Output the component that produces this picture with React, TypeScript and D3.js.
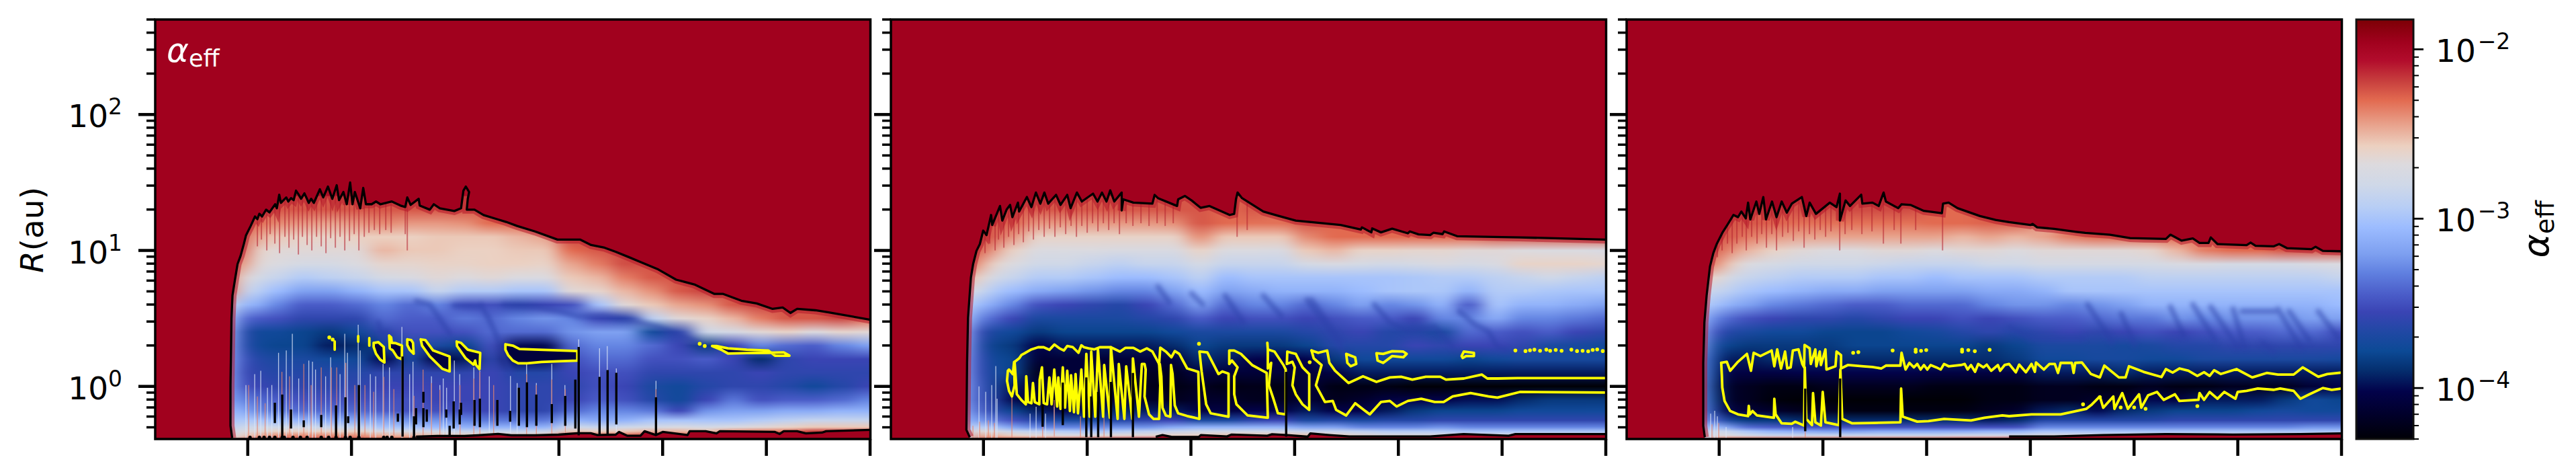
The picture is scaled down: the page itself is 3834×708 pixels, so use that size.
import * as d3 from "d3";

// axis units: time is arbitrary (no labels on the figure), R in au, alpha as log10
const panelLefts = [231, 1326, 2421];
const panelWidth = 1064.5;
const plotTop = 29;
const plotBottom = 653;
const timeMax = 1064;
const timeTicks = [137.7, 292, 446.3, 600.6, 754.9, 909.2, 1063.5];
const rMin = 0.41;
const rMax = 500;
const alphaMin = 5e-5;
const alphaMax = 1.5e-2;
const bgLog = -1.96;

const stopLogs = [-1.823, -1.96, -2.065, -2.19, -2.3, -2.44, -2.57, -2.68, -2.8, -2.93, -3.05, -3.21, -3.32, -3.45, -3.55, -3.67, -3.78, -3.89, -4.02, -4.15, -4.301];
const stopColors = ["#7c0005", "#a1011e", "#b20c2c", "#c8403e", "#e26a50", "#e8a08a", "#ecd0c0", "#dcdade", "#cfd8e8", "#b8cef5", "#9cbcff", "#7d9ff0", "#6080e0", "#4a5cc8", "#3a44b4", "#2048a4", "#0c4a96", "#053070", "#02024a", "#01002c", "#000006"];

// sampled log10(R) levels, bottom to top, one value per level in each column below
const logRRows = [-0.39, -0.36, -0.33, -0.3, -0.25, -0.18, -0.1, 0, 0.1, 0.2, 0.3, 0.4, 0.5, 0.6, 0.7, 0.8, 0.9, 1.0, 1.1, 1.2, 1.3, 1.4];
const columnTimes = [115, 130, 150, 180, 220, 260, 300, 340, 380, 420, 460, 500, 540, 580, 620, 660, 700, 740, 780, 820, 860, 900, 940, 980, 1020, 1064];

const alphaGrid1 = [
  [-2.7, -2.75, -2.8, -2.9, -3.0, -3.1, -3.2, -3.2, -3.2, -3.2, -3.15, -3.1, -3.0, -2.8, -2.4],
  [-2.4, -2.6, -2.7, -2.8, -2.95, -3.1, -3.3, -3.5, -3.55, -3.5, -3.6, -3.6, -3.4, -3.1, -2.85, -2.65, -2.4, -2.25],
  [-2.2, -2.5, -2.65, -2.8, -3.0, -3.3, -3.4, -3.55, -3.6, -3.65, -3.75, -3.75, -3.45, -3.1, -2.9, -2.75, -2.65, -2.6, -2.45, -2.3],
  [-2.2, -2.4, -2.6, -2.8, -3.05, -3.35, -3.45, -3.6, -3.65, -3.7, -3.8, -3.75, -3.5, -3.3, -3.05, -2.85, -2.7, -2.65, -2.55, -2.38, -2.25],
  [-2.2, -2.4, -2.6, -2.8, -3.1, -3.4, -3.5, -3.6, -3.65, -3.7, -3.8, -3.8, -3.6, -3.45, -3.2, -2.95, -2.75, -2.65, -2.6, -2.42, -2.25],
  [-2.2, -2.4, -2.6, -2.85, -3.15, -3.4, -3.5, -3.6, -3.65, -3.75, -3.95, -3.85, -3.6, -3.45, -3.2, -2.9, -2.75, -2.65, -2.6, -2.45, -2.25],
  [-2.2, -2.4, -2.6, -2.85, -3.15, -3.4, -3.5, -3.6, -3.65, -3.75, -3.9, -3.75, -3.6, -3.4, -3.1, -2.85, -2.7, -2.65, -2.58, -2.42, -2.25],
  [-2.3, -2.5, -2.75, -3.0, -3.2, -3.45, -3.5, -3.55, -3.6, -4.0, -3.8, -3.6, -3.4, -3.3, -3.0, -2.75, -2.62, -2.5, -2.57, -2.38, -2.25],
  [-2.3, -2.5, -2.75, -3.0, -3.25, -3.5, -3.5, -3.55, -3.6, -3.7, -3.65, -3.5, -3.45, -3.4, -3.0, -2.72, -2.62, -2.55, -2.58, -2.42, -2.25],
  [-2.1, -2.55, -2.8, -3.05, -3.25, -3.5, -3.55, -3.55, -3.6, -4.05, -3.7, -3.5, -3.45, -3.3, -2.85, -2.65, -2.6, -2.55, -2.55, -2.42, -2.25],
  [-2.1, -2.6, -2.85, -3.1, -3.3, -3.5, -3.55, -3.55, -3.6, -3.95, -3.8, -3.5, -3.35, -3.5, -2.95, -2.68, -2.6, -2.58, -2.55, -2.4, -2.25],
  [-2.05, -2.6, -2.85, -3.1, -3.35, -3.55, -3.55, -3.55, -3.55, -3.6, -3.5, -3.4, -3.4, -3.5, -2.95, -2.65, -2.58, -2.58, -2.55, -2.3],
  [-2.05, -2.6, -2.85, -3.1, -3.35, -3.6, -3.6, -3.6, -3.65, -4.0, -4.0, -3.4, -3.3, -3.6, -3.0, -2.7, -2.58, -2.55, -2.5, -2.3],
  [-2.05, -2.6, -2.85, -3.1, -3.35, -3.6, -3.6, -3.6, -3.65, -4.0, -4.0, -3.4, -3.25, -3.55, -3.0, -2.7, -2.6, -2.55, -2.45, -2.25],
  [-1.96, -2.2, -2.55, -2.8, -3.1, -3.4, -3.55, -3.6, -3.55, -3.5, -3.4, -3.25, -3.3, -3.5, -2.65, -2.55, -2.45, -2.3, -2.2],
  [-1.96, -2.3, -2.6, -2.85, -3.15, -3.3, -3.45, -3.5, -3.5, -3.4, -3.3, -3.2, -3.55, -3.0, -2.62, -2.5, -2.35, -2.25],
  [-1.96, -2.3, -2.55, -2.8, -3.1, -3.3, -3.5, -3.55, -3.5, -3.4, -3.3, -3.2, -3.6, -2.65, -2.5, -2.35, -2.22],
  [-1.96, -2.2, -2.5, -2.75, -3.0, -3.35, -3.65, -3.7, -3.6, -3.5, -3.4, -3.75, -2.9, -2.55, -2.4, -2.25],
  [-1.96, -2.3, -2.5, -2.7, -3.0, -3.55, -3.75, -3.75, -3.6, -3.5, -3.55, -3.6, -2.65, -2.45, -2.25],
  [-1.96, -2.2, -2.55, -2.75, -3.0, -3.25, -3.55, -3.65, -3.6, -3.45, -3.85, -2.8, -2.6, -2.4, -2.2],
  [-1.96, -2.1, -2.4, -2.7, -3.0, -3.2, -3.35, -3.6, -3.6, -3.55, -3.55, -2.75, -2.5, -2.25],
  [-1.96, -2.1, -2.35, -2.65, -2.95, -3.2, -3.5, -3.6, -3.55, -3.9, -3.3, -2.65, -2.35, -2.2],
  [-1.96, -2.1, -2.35, -2.6, -2.9, -3.15, -3.45, -3.65, -3.6, -3.6, -3.4, -2.6, -2.25],
  [-1.96, -2.1, -2.2, -2.55, -2.85, -3.15, -3.45, -3.75, -3.6, -3.55, -3.45, -2.7, -2.25],
  [-1.96, -1.96, -2.2, -2.55, -2.85, -3.1, -3.4, -3.65, -3.6, -3.55, -3.3, -2.62, -2.2],
  [-1.96, -1.96, -2.2, -2.55, -2.85, -3.1, -3.3, -3.55, -3.6, -3.55, -3.2, -2.65, -2.3],
];

const alphaGrid2 = [
  [-2.8, -2.85, -2.9, -3.0, -3.1, -3.15, -3.2, -3.2, -3.2, -3.2, -3.15, -3.1, -3.0, -2.9, -2.7, -2.5, -2.3],
  [-2.25, -2.45, -2.6, -2.85, -3.2, -3.4, -3.5, -3.5, -3.55, -3.55, -3.6, -3.55, -3.3, -3.05, -2.8, -2.6, -2.42, -2.25],
  [-2.3, -2.5, -2.7, -3.0, -3.35, -3.6, -3.65, -3.7, -3.72, -3.75, -3.8, -3.7, -3.4, -3.15, -2.95, -2.75, -2.6, -2.42, -2.25],
  [-2.3, -2.6, -2.85, -3.2, -3.5, -3.8, -4.0, -3.95, -3.8, -3.8, -3.85, -3.75, -3.55, -3.3, -3.05, -2.85, -2.7, -2.6, -2.42, -2.28],
  [-2.3, -2.65, -2.9, -3.3, -3.65, -3.95, -4.2, -4.1, -4.2, -4.1, -4.02, -3.85, -3.7, -3.5, -3.15, -2.95, -2.8, -2.7, -2.6, -2.42, -2.25],
  [-2.3, -2.7, -2.95, -3.3, -3.7, -4.0, -4.2, -4.15, -4.1, -4.1, -3.95, -3.8, -3.7, -3.55, -3.2, -2.95, -2.8, -2.7, -2.6, -2.42, -2.25],
  [-2.25, -2.7, -3.0, -3.3, -3.7, -3.95, -4.15, -4.15, -4.1, -4.1, -3.95, -3.8, -3.7, -3.6, -3.25, -3.0, -2.85, -2.7, -2.6, -2.42, -2.25],
  [-2.2, -2.65, -2.95, -3.25, -3.65, -3.9, -4.1, -4.18, -4.15, -4.1, -3.95, -3.8, -3.7, -3.65, -3.3, -3.05, -2.9, -2.72, -2.6, -2.42, -2.25],
  [-2.15, -2.65, -2.9, -3.25, -3.6, -3.95, -4.15, -4.22, -4.18, -4.08, -3.95, -3.8, -3.65, -3.55, -3.3, -3.05, -2.85, -2.72, -2.6, -2.42, -2.25],
  [-2.15, -2.6, -2.85, -3.15, -3.55, -3.95, -4.2, -4.25, -4.2, -4.08, -3.9, -3.75, -3.6, -3.4, -3.2, -3.0, -2.85, -2.72, -2.6, -2.4, -2.25],
  [-2.1, -2.6, -2.8, -3.1, -3.7, -4.05, -4.15, -4.2, -4.05, -3.9, -3.8, -3.7, -3.45, -3.2, -3.05, -2.9, -2.75, -2.6, -2.4, -2.25],
  [-2.1, -2.55, -2.8, -3.1, -3.7, -4.05, -4.15, -4.25, -4.1, -3.95, -3.85, -3.7, -3.55, -3.4, -3.2, -3.05, -2.85, -2.7, -2.55, -2.3],
  [-2.1, -2.55, -2.8, -3.1, -3.6, -4.02, -4.2, -4.22, -4.1, -4.02, -3.85, -3.7, -3.5, -3.3, -3.15, -3.0, -2.85, -2.7, -2.55, -2.32, -2.25],
  [-2.1, -2.55, -2.8, -3.1, -3.55, -4.02, -4.2, -4.25, -4.1, -4.02, -3.85, -3.7, -3.5, -3.3, -3.1, -3.0, -2.85, -2.72, -2.55, -2.32],
  [-2.1, -2.55, -2.85, -3.2, -3.7, -3.95, -4.1, -4.1, -4.1, -4.02, -3.8, -3.65, -3.55, -3.4, -3.1, -3.0, -2.75, -2.55, -2.38, -2.25],
  [-2.1, -2.6, -2.85, -3.2, -3.65, -4.02, -4.2, -4.25, -4.05, -3.85, -3.65, -3.6, -3.5, -3.3, -3.1, -3.0, -2.72, -2.5, -2.3],
  [-2.1, -2.65, -2.9, -3.3, -3.7, -4.02, -4.15, -4.25, -3.95, -3.75, -3.65, -3.55, -3.45, -3.2, -3.05, -3.0, -2.75, -2.6, -2.3],
  [-2.1, -2.7, -2.95, -3.3, -3.65, -3.95, -4.05, -4.25, -3.95, -3.75, -3.65, -3.65, -3.45, -3.3, -3.0, -3.0, -2.78, -2.6, -2.3],
  [-2.1, -2.7, -2.95, -3.3, -3.65, -3.85, -4.02, -4.3, -3.95, -3.75, -3.55, -3.65, -3.55, -3.25, -2.98, -2.98, -2.75, -2.62, -2.3],
  [-2.1, -2.7, -2.95, -3.25, -3.6, -3.8, -4.02, -4.3, -3.95, -3.75, -3.6, -3.7, -3.3, -3.1, -2.98, -2.95, -2.72, -2.62, -2.3],
  [-2.1, -2.7, -3.0, -3.3, -3.6, -3.8, -3.98, -4.3, -3.95, -3.8, -3.55, -3.4, -3.3, -3.45, -3.1, -2.95, -2.75, -2.65, -2.3],
  [-2.1, -2.7, -3.0, -3.3, -3.6, -3.8, -3.98, -4.3, -3.95, -3.75, -3.55, -3.45, -3.15, -3.0, -2.95, -2.9, -2.72, -2.65, -2.25],
  [-2.1, -2.7, -3.0, -3.3, -3.6, -3.75, -3.9, -4.3, -3.95, -3.72, -3.6, -3.5, -3.3, -3.1, -2.95, -2.85, -2.6, -2.68, -2.25],
  [-2.1, -2.7, -3.0, -3.3, -3.6, -3.75, -3.85, -4.3, -3.95, -3.72, -3.7, -3.45, -3.3, -3.1, -2.98, -2.8, -2.6, -2.7, -2.25],
  [-2.1, -2.7, -3.0, -3.3, -3.6, -3.75, -3.85, -4.3, -3.95, -3.72, -3.72, -3.55, -3.35, -3.15, -3.0, -2.85, -2.6, -2.7, -2.25],
  [-2.1, -2.7, -3.0, -3.3, -3.6, -3.75, -3.85, -4.3, -3.95, -3.72, -3.75, -3.6, -3.4, -3.2, -3.0, -2.9, -2.62, -2.72, -2.25],
];

const alphaGrid3 = [
  [-2.9, -2.9, -2.95, -3.1, -3.2, -3.3, -3.3, -3.3, -3.3, -3.3, -3.2, -3.15, -3.05, -2.95, -2.8, -2.6, -2.35],
  [-2.4, -2.65, -2.75, -3.0, -3.45, -3.7, -3.8, -3.85, -3.8, -3.75, -3.7, -3.5, -3.3, -3.0, -2.85, -2.6, -2.35, -2.25],
  [-2.3, -2.7, -2.85, -3.2, -3.7, -4.05, -4.15, -4.15, -4.05, -3.95, -3.8, -3.65, -3.4, -3.1, -2.9, -2.75, -2.55, -2.38, -2.25],
  [-2.3, -2.8, -3.0, -3.4, -3.85, -4.1, -4.2, -4.2, -4.05, -3.95, -3.85, -3.7, -3.5, -3.2, -3.0, -2.85, -2.7, -2.5, -2.35, -2.25],
  [-2.3, -2.85, -3.1, -3.45, -3.85, -4.15, -4.28, -4.25, -4.05, -3.9, -3.85, -3.75, -3.55, -3.3, -3.05, -2.9, -2.75, -2.6, -2.42, -2.28],
  [-2.3, -2.85, -3.15, -3.5, -3.9, -4.2, -4.3, -4.25, -4.02, -3.9, -3.85, -3.75, -3.6, -3.35, -3.1, -2.95, -2.8, -2.65, -2.45, -2.32, -2.22],
  [-2.3, -2.85, -3.2, -3.5, -3.9, -4.2, -4.3, -4.2, -4.02, -3.9, -3.85, -3.8, -3.6, -3.4, -3.15, -2.95, -2.8, -2.68, -2.45, -2.32, -2.22],
  [-2.3, -2.85, -3.2, -3.5, -3.9, -4.25, -4.3, -4.2, -4.02, -3.9, -3.8, -3.8, -3.65, -3.45, -3.15, -2.95, -2.8, -2.68, -2.45, -2.32, -2.22],
  [-2.3, -2.85, -3.15, -3.5, -3.9, -4.25, -4.3, -4.2, -4.02, -3.9, -3.8, -3.8, -3.6, -3.45, -3.2, -3.0, -2.82, -2.65, -2.45, -2.32, -2.22],
  [-2.3, -2.85, -3.15, -3.5, -3.9, -4.25, -4.3, -4.2, -4.02, -3.9, -3.8, -3.75, -3.55, -3.4, -3.2, -3.0, -2.85, -2.65, -2.45, -2.32, -2.22],
  [-2.3, -2.85, -3.15, -3.5, -3.9, -4.25, -4.3, -4.25, -4.05, -3.9, -3.8, -3.72, -3.55, -3.4, -3.2, -3.05, -2.85, -2.68, -2.45, -2.3],
  [-2.25, -2.8, -3.15, -3.5, -3.9, -4.25, -4.3, -4.25, -4.05, -3.9, -3.8, -3.65, -3.5, -3.4, -3.2, -3.0, -2.85, -2.65, -2.5, -2.3],
  [-2.25, -2.8, -3.1, -3.5, -3.95, -4.2, -4.25, -4.25, -4.05, -3.9, -3.85, -3.6, -3.55, -3.3, -3.15, -3.0, -2.8, -2.65, -2.45, -2.28],
  [-2.2, -2.8, -3.1, -3.5, -3.9, -4.15, -4.25, -4.25, -4.05, -3.85, -3.8, -3.65, -3.5, -3.25, -3.15, -3.0, -2.8, -2.68, -2.5, -2.28],
  [-2.2, -2.7, -3.0, -3.3, -3.65, -3.95, -4.2, -4.2, -3.95, -3.75, -3.7, -3.6, -3.45, -3.25, -3.1, -2.95, -2.75, -2.65, -2.45],
  [-2.2, -2.7, -3.0, -3.3, -3.65, -3.9, -4.2, -4.2, -3.95, -3.75, -3.7, -3.55, -3.45, -3.3, -3.0, -2.95, -2.75, -2.65, -2.35],
  [-2.2, -2.75, -3.0, -3.3, -3.65, -4.0, -4.15, -4.25, -3.95, -3.72, -3.7, -3.6, -3.4, -3.25, -3.0, -2.95, -2.75, -2.65, -2.3],
  [-2.15, -2.75, -3.0, -3.3, -3.65, -3.9, -4.15, -4.25, -3.9, -3.72, -3.72, -3.55, -3.35, -3.2, -3.0, -2.95, -2.75, -2.65, -2.3],
  [-2.15, -2.75, -3.0, -3.3, -3.65, -3.85, -4.0, -4.2, -3.95, -3.75, -3.7, -3.5, -3.35, -3.1, -3.0, -2.9, -2.75, -2.62, -2.3],
  [-2.1, -2.75, -3.0, -3.3, -3.6, -3.8, -4.05, -4.25, -3.95, -3.75, -3.65, -3.55, -3.25, -3.1, -3.0, -2.9, -2.72, -2.5, -2.3],
  [-2.1, -2.75, -3.0, -3.3, -3.6, -3.8, -3.95, -4.25, -3.95, -3.7, -3.65, -3.5, -3.3, -3.1, -3.0, -2.9, -2.72, -2.35],
  [-2.1, -2.75, -3.0, -3.3, -3.6, -3.8, -3.95, -4.2, -3.95, -3.7, -3.6, -3.45, -3.25, -3.1, -3.0, -2.9, -2.75, -2.3],
  [-2.1, -2.75, -3.0, -3.3, -3.6, -3.75, -3.95, -4.2, -3.95, -3.7, -3.6, -3.45, -3.25, -3.1, -3.0, -2.9, -2.75, -2.3],
  [-2.1, -2.7, -3.0, -3.3, -3.6, -3.72, -3.85, -4.2, -3.95, -3.7, -3.6, -3.4, -3.25, -3.1, -3.0, -2.9, -2.75, -2.25],
  [-2.1, -2.7, -3.0, -3.25, -3.6, -3.75, -3.75, -4.1, -3.95, -3.7, -3.6, -3.4, -3.2, -3.1, -3.0, -2.9, -2.72, -2.25],
  [-2.1, -2.7, -3.0, -3.25, -3.6, -3.75, -3.8, -4.02, -3.95, -3.72, -3.6, -3.5, -3.2, -3.05, -3.0, -2.85, -2.7, -2.25],
];

// outer disc edge, [time, log10 R]
const edge1 = [[114.5, -0.38], [112, -0.29], [112, 0.01], [113.5, 0.5], [115, 0.67], [118.5, 0.78], [122.5, 0.9], [127, 0.96], [132, 1.05], [135, 1.11], [142, 1.18], [148.5, 1.25], [152, 1.23], [155, 1.27], [159, 1.25], [165, 1.3], [170, 1.28], [178.5, 1.34], [181, 1.31], [184.5, 1.41], [187, 1.35], [191, 1.37], [195, 1.39], [198, 1.36], [202, 1.385], [206, 1.37], [209.5, 1.44], [213.5, 1.41], [217, 1.38], [222, 1.42], [228.5, 1.35], [232, 1.38], [236, 1.35], [245, 1.45], [250, 1.39], [257, 1.47], [263.5, 1.38], [270, 1.48], [273.5, 1.37], [280, 1.43], [285, 1.34], [290, 1.5], [293.5, 1.34], [297, 1.43], [305, 1.31], [309.5, 1.46], [313.5, 1.34], [322, 1.34], [328.5, 1.36], [335, 1.34], [352, 1.36], [365, 1.33], [372, 1.32], [375, 1.39], [380, 1.335], [392, 1.38], [393.5, 1.33], [408.5, 1.3], [414.5, 1.34], [423.5, 1.31], [445, 1.29], [455, 1.31], [458.5, 1.44], [462, 1.47], [467, 1.43], [465, 1.38], [463.5, 1.3], [475, 1.3], [488.5, 1.26], [508.5, 1.23], [522, 1.21], [538.5, 1.18], [565, 1.14], [598.5, 1.08], [632, 1.08], [648.5, 1.04], [668.5, 1.02], [685, 0.99], [705, 0.95], [722, 0.915], [748.5, 0.86], [775, 0.785], [802, 0.75], [832, 0.68], [845, 0.68], [872, 0.63], [895, 0.61], [918.5, 0.57], [933.5, 0.58], [945, 0.54], [955, 0.57], [982, 0.56], [1002, 0.545], [1064, 0.49]];
const edge2 = [[117.3, -0.374], [112.3, -0.32], [113.3, 0.173], [114.7, 0.503], [119, 0.8], [122.3, 0.9], [127.3, 0.997], [132.3, 1.047], [137.3, 1.146], [142.3, 1.113], [149, 1.261], [150.7, 1.187], [162.3, 1.327], [165.7, 1.22], [172.3, 1.302], [177.3, 1.335], [180.7, 1.245], [189, 1.352], [190.7, 1.286], [202.3, 1.393], [209, 1.319], [215.7, 1.426], [222.3, 1.344], [228.3, 1.426], [234, 1.344], [245.7, 1.409], [252.3, 1.335], [262.3, 1.409], [267.3, 1.311], [276.7, 1.426], [284, 1.36], [300.7, 1.418], [307.3, 1.36], [314, 1.426], [320.7, 1.36], [326.3, 1.442], [332.3, 1.36], [343.3, 1.426], [343.3, 1.294], [345.7, 1.376], [360.7, 1.352], [389, 1.344], [392.3, 1.409], [397.3, 1.385], [425.7, 1.327], [427.3, 1.376], [437.3, 1.401], [447.3, 1.368], [460.7, 1.314], [474, 1.327], [504, 1.261], [510.7, 1.269], [513.3, 1.376], [515.7, 1.426], [522.3, 1.385], [554, 1.286], [574, 1.258], [594, 1.231], [602.3, 1.22], [635.7, 1.203], [669, 1.187], [699, 1.154], [700.7, 1.17], [714.7, 1.133], [716, 1.162], [729, 1.133], [745.7, 1.16], [769, 1.126], [772, 1.14], [785, 1.118], [802.3, 1.113], [807, 1.13], [820.7, 1.12], [823, 1.14], [842.3, 1.105], [935.7, 1.096], [1062, 1.08], [1064, 1.08]];
const edge3 = [[116.3, -0.374], [114, -0.29], [114, 0.173], [115.7, 0.47], [119, 0.668], [124, 0.882], [129, 0.981], [134, 1.047], [142.3, 1.129], [150.7, 1.195], [159, 1.261], [165.7, 1.245], [170.7, 1.286], [177.3, 1.236], [180.7, 1.352], [184, 1.228], [193, 1.36], [197.3, 1.269], [203.3, 1.393], [207.3, 1.228], [216.3, 1.36], [223, 1.245], [230.7, 1.36], [238.3, 1.278], [245.7, 1.344], [260.7, 1.393], [267.3, 1.253], [272.3, 1.352], [281.7, 1.269], [302.3, 1.352], [312.3, 1.319], [317.3, 1.418], [317.3, 1.22], [325.7, 1.368], [332.3, 1.327], [349, 1.41], [350.7, 1.344], [365.7, 1.352], [375, 1.327], [382.3, 1.426], [385.7, 1.36], [404, 1.311], [409, 1.34], [422.3, 1.335], [442.3, 1.291], [469, 1.274], [470.7, 1.344], [479, 1.352], [492.3, 1.311], [525.7, 1.253], [549, 1.225], [569, 1.208], [600.7, 1.187], [604, 1.195], [610.7, 1.17], [635.7, 1.159], [669, 1.137], [682.3, 1.129], [719, 1.116], [749, 1.091], [769, 1.088], [802.3, 1.085], [809, 1.116], [825.7, 1.072], [842.3, 1.088], [852.3, 1.055], [865.7, 1.055], [869, 1.096], [879, 1.047], [922.3, 1.039], [928.3, 1.058], [935.7, 1.034], [962.3, 1.03], [970.7, 1.047], [982.3, 1.017], [1019, 1.009], [1024.7, 1.027], [1035.7, 0.997], [1064, 0.994]];

// inner disc edge
const inner1 = [[388, -0.37], [420, -0.365], [460, -0.365], [480, -0.36], [510, -0.35], [530, -0.36], [565, -0.36], [600, -0.355], [628, -0.345], [648, -0.345], [658, -0.358], [685, -0.355], [690, -0.335], [702, -0.363], [722, -0.363], [728, -0.33], [745, -0.358], [755, -0.335], [792, -0.358], [795, -0.33], [819, -0.33], [835, -0.346], [840, -0.33], [922, -0.335], [929, -0.35], [935, -0.33], [955, -0.33], [968, -0.346], [992, -0.34], [998, -0.33], [1064, -0.32]];
const inner2 = [[394, -0.37], [404, -0.358], [417, -0.371], [458, -0.372], [461, -0.358], [500, -0.368], [507, -0.354], [560, -0.363], [567, -0.352], [589, -0.358], [620, -0.37], [624, -0.346], [652, -0.358], [682, -0.368], [802, -0.368], [852, -0.351], [919, -0.363], [929, -0.351], [1064, -0.351]];
const inner3 = [[569, -0.368], [636, -0.368], [709, -0.358], [802, -0.351], [902, -0.354], [1002, -0.351], [1064, -0.346]];

// black contour spikes, [time, top log10 R, bottom log10 R]
const bars1 = [[178, -0.12, -0.27], [189, -0.06, -0.37], [202, -0.17, -0.31], [221, -0.25, -0.3], [247, -0.21, -0.3], [269, -0.14, -0.37], [283, -0.08, -0.37], [287, -0.22, -0.27], [303, 0.01, -0.37], [361, -0.2, -0.26], [368, 0.22, -0.37], [385, -0.22, -0.37], [388, -0.16, -0.28], [399, -0.04, -0.12], [399, -0.16, -0.3], [404, -0.17, -0.26], [433, -0.17, -0.23], [438, -0.29, -0.37], [444, -0.11, -0.31], [453, -0.17, -0.28], [455, -0.12, -0.21], [475, -0.1, -0.29], [483, -0.09, -0.3], [509, -0.1, -0.29], [528, -0.18, -0.26], [541, -0.01, -0.29], [553, 0.03, -0.3], [567, -0.06, -0.29], [590, -0.13, -0.27], [610, -0.07, -0.29], [625, 0.05, -0.31], [630, 0.29, -0.36], [661, 0.07, -0.36], [673, 0.12, -0.36], [686, 0.1, -0.28], [745, -0.08, -0.35]];
const bars2 = [[225.7, -0.132, -0.297], [255.7, 0.028, -0.285], [290.7, 0.066, -0.374], [298, -0.074, -0.374], [308.3, -0.041, -0.374], [327.3, 0.033, -0.374], [360, 0.099, -0.374], [588, 0.107, -0.37]];
const bars3 = [[265.7, -0.016, -0.33], [317.7, 0.058, -0.374]];

// small black blobs along the bottom of the first panel
const baseBlobs1 = [141, 155, 162, 170, 178, 189, 192, 205, 216, 226, 247, 258, 269, 283, 290, 303, 340, 345, 352, 385, 392];

// yellow alpha = 1e-4 contours, one array per line
const yellow1 = [
  [[325, 0.32], [332, 0.325], [340, 0.29], [341, 0.176], [334.5, 0.198], [328.5, 0.24], [325, 0.29], [325, 0.32]],
  [[348, 0.374], [351, 0.36], [352, 0.32], [358, 0.318], [367, 0.3], [367, 0.2], [360, 0.214], [353.5, 0.264], [349, 0.28], [348, 0.374]],
  [[375, 0.346], [381, 0.34], [383.5, 0.32], [384.5, 0.24], [378.5, 0.27], [375, 0.305], [375, 0.346]],
  [[395, 0.346], [402, 0.34], [413.5, 0.264], [438, 0.22], [438, 0.11], [427, 0.13], [408.5, 0.22], [397, 0.3], [395, 0.346]],
  [[448.5, 0.33], [455, 0.32], [465, 0.27], [483.5, 0.247], [482.5, 0.127], [477, 0.16], [476, 0.19], [473.5, 0.16], [462, 0.206], [449, 0.297], [448.5, 0.33]],
  [[521, 0.31], [532, 0.3], [542, 0.275], [570, 0.27], [600, 0.265], [628, 0.26], [628, 0.19], [600, 0.185], [575, 0.18], [553, 0.17], [540, 0.17], [532, 0.19], [525, 0.23], [521, 0.27], [521, 0.31]],
  [[828.5, 0.297], [835, 0.297], [852, 0.28], [880, 0.27], [912, 0.264], [922, 0.226], [932, 0.225], [943.5, 0.226], [935, 0.25], [912, 0.247], [880, 0.245], [852, 0.242], [842, 0.27], [828.5, 0.297]],
  [[267, 0.33], [267, 0.27]],
  [[302, 0.37], [302, 0.33]],
  [[318.5, 0.355], [318.5, 0.3]],
];
const yellowDots1 = [[259, 0.36], [264, 0.345], [810, 0.313], [817.5, 0.297]];

const yellow2 = [
  [[184, 0.18], [190.7, 0.206], [194, 0.23], [209, 0.272], [219, 0.288], [227.3, 0.288], [235.7, 0.269], [243.3, 0.308], [250.7, 0.28], [257.3, 0.264], [262.3, 0.297], [270.7, 0.288], [279, 0.247], [283.3, 0.302], [287.3, 0.288], [294, 0.28], [302.3, 0.272], [310.7, 0.288], [327.3, 0.288], [340.7, 0.256], [349, 0.284], [360.7, 0.284], [370.7, 0.256], [380.7, 0.28], [389, 0.256], [399, 0.165]],
  [[174, 0.115], [172.7, 0.041], [175.7, -0.033], [180, -0.074], [184, 0.008], [183.3, 0.18], [181.3, 0.09], [175.7, 0.124], [174, 0.115]],
  [[184, 0.18], [187.3, -0.058], [194, -0.1], [200.7, -0.132], [201.3, 0.074], [204, -0.115], [209, -0.124], [211.3, 0.025], [214, -0.115], [220.7, -0.132], [221.3, 0.05], [224.7, 0.14], [227.3, -0.124], [232.3, -0.132], [235.7, 0.066], [239, -0.132], [243, 0.124], [247.3, -0.148], [249, 0.066], [252.3, -0.165], [255.7, 0.14], [259, -0.157], [262.3, 0.115], [266.3, -0.181], [268, 0.082], [272.3, -0.19], [274.7, 0.091], [278.3, -0.198], [283.3, 0.124], [287.3, -0.223], [290.7, 0.239], [295.7, -0.223], [298, 0.256], [304, -0.223], [308, 0.272], [315.7, -0.223], [317.3, 0.157], [325.7, -0.231], [327.3, 0.288], [337.3, -0.239], [339, 0.165], [347.3, -0.239], [350, 0.148], [359, -0.239], [360, 0.206], [369, -0.223], [373.3, 0.165], [377.3, 0.165], [379, 0.124], [377.3, -0.074], [384, -0.206], [390.7, -0.239], [399, -0.239], [400.7, 0.008], [399, 0.165]],
  [[399, 0.165], [400.7, 0.285], [409, 0.256], [417.3, 0.214], [422.3, 0.26], [429, 0.239], [440.7, 0.132], [457.3, 0.107], [459, -0.239], [440.7, -0.218], [427.3, -0.198], [422.3, -0.14], [419, 0.091], [416.7, 0.157], [415.7, -0.223], [409, -0.214], [404, -0.157], [402.3, 0.074], [400, 0.165]],
  [[459, 0.256], [470.7, 0.25], [487.3, 0.091], [493, 0.11], [502.3, 0.094], [502.3, -0.223], [475.7, -0.198], [469, -0.132], [462.3, 0.107], [459, 0.256]],
  [[503.3, 0.165], [503.3, 0.264], [510.7, 0.264], [520.7, 0.239], [537.3, 0.157], [559, 0.099], [560.7, -0.231], [530.7, -0.214], [514, -0.132], [510.7, -0.058], [510.7, 0.074], [515.7, 0.14], [507.3, 0.19], [503.3, 0.165]],
  [[560, 0.321], [560.7, 0.272], [570.7, 0.256], [584, 0.157], [587.3, 0.124], [587.3, -0.206], [575.7, -0.198], [569, -0.091], [562.3, 0.008], [565.7, 0.173], [560.7, 0.132], [560.7, 0.272]],
  [[589, 0.165], [589.7, 0.256], [595.7, 0.247], [602.3, 0.239], [612.3, 0.14], [622.3, 0.091], [622.3, -0.173], [612.3, -0.132], [602.3, -0.058], [597.3, 0.008], [600.7, 0.14], [597.3, 0.181], [589, 0.165]],
  [[625.7, 0.264], [635.7, 0.247], [649, 0.264], [652.3, 0.173], [660.7, 0.115], [680.7, 0.025], [702.3, 0.074], [722.3, 0.033], [742.3, 0.066], [759, 0.071], [775.7, 0.05], [795.7, 0.071], [817.3, 0.071], [825.7, 0.05], [852.3, 0.058], [879, 0.087], [887.3, 0.058], [902.3, 0.058], [932.3, 0.061], [1066, 0.061]],
  [[1066, -0.045], [935.7, -0.041], [902.3, -0.082], [889, -0.074], [862.3, -0.049], [835.7, -0.074], [822.3, -0.115], [809, -0.115], [789, -0.091], [769, -0.107], [752.3, -0.148], [742.3, -0.107], [729, -0.115], [712.3, -0.206], [690.7, -0.124], [677.3, -0.214], [662.3, -0.173], [657.3, -0.107], [645.7, -0.115], [632.3, 0.008], [640.7, 0.157], [629, 0.206], [625.7, 0.264]],
  [[677.3, 0.239], [690.7, 0.214], [692.3, 0.165], [684, 0.148], [679, 0.173], [677.3, 0.239]],
  [[722.3, 0.244], [732.3, 0.239], [745.7, 0.259], [762.3, 0.256], [767.3, 0.239], [762.3, 0.214], [745.7, 0.223], [732.3, 0.173], [724, 0.19], [722.3, 0.244]],
  [[849, 0.223], [852.3, 0.256], [867.3, 0.247], [867.3, 0.223], [855.7, 0.223], [850.7, 0.209], [849, 0.223]],
];
const yellowDots2 = [[458.3, 0.313], [623, 0.178], [929, 0.264], [944, 0.26], [950.7, 0.266], [957.3, 0.27], [965.7, 0.262], [975, 0.27], [980.7, 0.262], [989, 0.268], [997.7, 0.262], [1012.3, 0.27], [1020.7, 0.26], [1029, 0.262], [1037.3, 0.258], [1044, 0.268], [1050.7, 0.272], [1059, 0.26]];

const yellow3 = [
  [[140.7, 0.173], [149, 0.181], [154, 0.115], [165.7, 0.181], [179, 0.239], [185, 0.115], [189, 0.247], [199, 0.223], [215.7, 0.264], [219.7, 0.148], [224, 0.272], [229.7, 0.132], [235.7, 0.256], [239, 0.132], [244, 0.14], [247.3, 0.264], [255.7, 0.272], [261.3, 0.165], [264, 0.14], [264.7, 0.305], [272.3, 0.28], [274, 0.165], [280.7, 0.272], [282.3, 0.148], [287.3, 0.256], [289, 0.157], [295.7, 0.272], [297.3, 0.124], [310.7, 0.148], [312.3, 0.256], [319, 0.23], [319, 0.132], [329, 0.157], [352.3, 0.148], [365.7, 0.143], [379, 0.132], [385.7, 0.153], [407.3, 0.153], [409, 0.247], [415, 0.124], [420.7, 0.173], [427.3, 0.14], [432.3, 0.165], [437.3, 0.124], [442.3, 0.157], [447.3, 0.124], [452.3, 0.157], [460.7, 0.14], [467.3, 0.124], [472.3, 0.165], [479, 0.148], [497.3, 0.157], [503, 0.165], [507.3, 0.124], [512.3, 0.157], [518.3, 0.107], [523, 0.165], [530.7, 0.14], [535.7, 0.16], [542.3, 0.115], [552.3, 0.157], [555.7, 0.115], [562.3, 0.157], [569, 0.165], [579, 0.104], [584, 0.16], [594, 0.104], [602.3, 0.165], [607.3, 0.107], [609, 0.176], [620.7, 0.124], [629, 0.165], [637, 0.165], [641.7, 0.099], [645.7, 0.173], [662.3, 0.173], [665, 0.099], [667.3, 0.173], [677.3, 0.176], [690.7, 0.091], [704, 0.066], [710.7, 0.153], [732.3, 0.066], [742.3, 0.066], [747.3, 0.148], [769, 0.107], [795.7, 0.069], [802.3, 0.127], [812.3, 0.102], [822.3, 0.132], [835.7, 0.115], [849, 0.077], [859, 0.104], [867.3, 0.077], [874, 0.119], [884, 0.091], [907.3, 0.127], [930.7, 0.066], [952.3, 0.099], [969, 0.087], [992.3, 0.087], [1005.7, 0.14], [1029, 0.071], [1042.3, 0.091], [1064, 0.102]],
  [[140.7, 0.173], [141.7, 0.074], [142.3, -0.008], [145.7, -0.107], [154, -0.181], [165.7, -0.206], [180.7, -0.219], [181.7, -0.143], [183.3, -0.206], [187.3, -0.181], [194, -0.214], [219, -0.231], [219.7, -0.091], [221.7, -0.206], [230.7, -0.272], [245.7, -0.275], [250.7, -0.26], [264, -0.288], [265, 0.14], [267.3, -0.239], [275.7, -0.285], [277.3, -0.049], [280.7, -0.264], [289, -0.288], [291.7, -0.041], [295.7, -0.264], [315.7, -0.285], [318, 0.124], [320.7, -0.239], [335.7, -0.272], [365.7, -0.269], [407.3, -0.264], [408.3, -0.016], [410.7, -0.223], [432.3, -0.259], [449, -0.256], [472.3, -0.239], [512.3, -0.251], [532.3, -0.231], [559, -0.214], [569, -0.219], [602.3, -0.206], [645.7, -0.206], [669, -0.181], [684, -0.165], [692.3, -0.132], [704, -0.074], [709, -0.157], [724, -0.074], [725.7, -0.165], [737.3, -0.049], [745.7, -0.165], [762.3, -0.058], [765.7, -0.157], [775.7, -0.066], [789, -0.041], [799, -0.099], [815.7, -0.058], [822.3, -0.107], [850.7, -0.099], [852.3, -0.049], [859, -0.099], [867.3, -0.041], [879, -0.091], [889, -0.041], [905.7, -0.091], [909, -0.041], [922.3, -0.033], [939, -0.016], [962.3, -0.025], [972.3, -0.016], [992.3, -0.033], [1002.3, -0.091], [1015.7, -0.058], [1035.7, -0.012], [1049, -0.025], [1064, -0.016]],
];
const yellowDots3 = [[344.7, 0.252], [337, 0.247], [395.7, 0.264], [430, 0.27], [430, 0.254], [438, 0.262], [445.7, 0.267], [499, 0.27], [499, 0.256], [508.3, 0.267], [518, 0.259], [540, 0.269], [679, -0.132], [704, -0.08], [735, -0.155], [755, -0.155], [772, -0.165], [849, -0.145]];

// dark ridges running through the disc
const bands1 = [
  [[388.5, 0.626], [408.5, 0.602], [438.5, 0.387]],
  [[445, 0.593], [485, 0.585]],
  [[485, 0.6], [508.5, 0.371]],
  [[518.5, 0.6], [565, 0.585], [602, 0.552], [628.5, 0.516], [668.5, 0.519], [712, 0.483], [748.5, 0.437], [782, 0.371], [808.5, 0.321]],
  [[345, 0.404], [365, 0.206]],
  [[332, 0.47], [342, 0.288]],
  [[495, 0.52], [528.5, 0.107]],
];
const bands2 = [
  [[619, 0.635], [659, 0.371], [679, 0.206]],
  [[625.7, 0.635], [649, 0.47], [669, 0.338]],
  [[719, 0.602], [742.3, 0.47], [769, 0.404], [809, 0.437], [835.7, 0.288]],
  [[845.7, 0.552], [869, 0.453], [889, 0.404], [902.3, 0.288], [915.7, 0.264]],
  [[447.3, 0.684], [464, 0.602]],
  [[497.3, 0.668], [524, 0.47]],
  [[554, 0.668], [580.7, 0.519]],
  [[397.3, 0.734], [414, 0.618]],
];
const bands3 = [
  [[569, 0.437], [602.3, 0.354], [679, 0.354]],
  [[685.7, 0.602], [712.3, 0.404], [722.3, 0.321]],
  [[735.7, 0.536], [755.7, 0.305]],
  [[809, 0.585], [829, 0.371]],
  [[842.3, 0.602], [875.7, 0.338]],
  [[869, 0.585], [909, 0.288]],
  [[902.3, 0.569], [919, 0.288]],
  [[915.7, 0.552], [969, 0.552]],
  [[969, 0.569], [1002.3, 0.288]],
  [[985.7, 0.552], [1015.7, 0.338]],
  [[1029, 0.552], [1059, 0.354]],
  [[945.7, 0.321], [962.3, 0.256]],
];

// thin vertical streaks, [time, top log10 R]
const paleStreaks1 = [[135, 0.01], [148, 0.09], [157, 0.115], [167, -0.01], [173.5, 0.01], [183.5, 0.247], [195, 0.264], [204, 0.387], [213.5, 0.058], [228.5, 0.19], [234, 0.181], [238.5, 0.124], [253.5, 0.074], [261, 0.214], [275, 0.09], [282, 0.387], [286, 0.247], [302, 0.453], [305, 0.264], [320, 0.09], [328, 0.074], [339, 0.165], [348.5, 0.14], [367, 0.437], [378.5, 0.09], [383.5, 0.181], [411, 0.074], [423.5, 0.01], [428.5, 0.058], [433.5, -0.01], [445, 0.19], [453, 0.09], [474, 0.14], [483, 0.115], [497, 0.074], [528.5, 0.077], [538.5, 0.025], [552.5, 0.165], [567, 0.025], [590, 0.165], [609.5, 0.01], [630, 0.346], [661, 0.28], [672.5, 0.297], [686, 0.132], [745, 0.041]];
const pinkStreaks1 = [[139, 0.01], [152, -0.074], [163.5, -0.124], [188.5, 0.107], [200, 0.074], [221, 0.165], [232, 0.01], [247, 0.14], [262, 0.14], [270, 0.14], [283.5, 0.173], [297, 0.01], [312, 0.01], [325, -0.04], [340, 0.07], [355, -0.02], [385, -0.07], [398.5, 0.124], [411, 0.025], [423.5, -0.025], [453.5, 0.01], [474, 0.058], [483, 0.107], [503.5, 0.01], [552.5, 0.09], [567, 0.01], [590, 0.05], [610, -0.02], [661, 0.02], [673, 0.05], [745, -0.02]];
const paleStreaks2 = [[131, 0.0], [141, -0.04], [150, 0.01], [156, 0.15], [158, -0.09], [216, -0.15], [243, -0.15], [207, -0.2], [230, -0.2]];
const pinkStreaks2 = [[122, -0.29], [132, -0.26], [145, -0.25], [154, -0.27], [180, -0.06], [225.7, -0.27], [243, -0.1], [282, -0.22], [317, -0.22]];
const paleStreaks3 = [[125, -0.2], [131, -0.18], [135, -0.22], [148, -0.3], [247, -0.3]];
const pinkStreaks3 = [[127, -0.28], [137, -0.27], [265.7, -0.33]];

// red teeth hanging from the disc edge, [time, lowest log10 R]
const edgeTeeth1 = [[152, 1.03], [158, 1.08], [166, 1.0], [171, 1.12], [178, 1.05], [185, 0.98], [193, 1.1], [199, 1.02], [206, 1.08], [213, 0.97], [219, 1.1], [226, 1.04], [233, 1.0], [240, 1.1], [247, 1.03], [254, 0.98], [261, 1.09], [268, 1.02], [275, 1.1], [282, 1.0], [289, 1.07], [296, 1.12], [303, 1.0], [311, 1.1], [318, 1.13], [326, 1.15], [334, 1.12], [343, 1.15], [351, 1.13], [372, 1.12], [375, 1.0]];
const edgeTeeth2 = [[140, 0.98], [147, 1.05], [155, 1.0], [160, 1.08], [168, 1.02], [175, 1.1], [183, 1.04], [190, 1.12], [197, 1.06], [205, 1.14], [212, 1.08], [220, 1.15], [228, 1.1], [236, 1.16], [244, 1.1], [252, 1.17], [260, 1.12], [268, 1.18], [276, 1.1], [284, 1.18], [292, 1.13], [300, 1.2], [308, 1.14], [316, 1.2], [324, 1.15], [332, 1.2], [340, 1.12], [350, 1.2], [360, 1.18], [372, 1.2], [384, 1.18], [396, 1.2], [408, 1.18], [420, 1.2], [515, 1.1], [530, 1.15]];
const edgeTeeth3 = [[135, 0.95], [142, 1.0], [150, 1.05], [157, 0.98], [164, 1.05], [172, 1.1], [178, 1.0], [186, 1.1], [194, 1.05], [201, 1.12], [208, 1.02], [216, 1.12], [223, 1.0], [232, 1.1], [240, 1.13], [248, 1.07], [256, 1.14], [264, 1.02], [272, 1.12], [280, 1.08], [288, 1.15], [296, 1.1], [304, 1.14], [317, 1.0], [325, 1.12], [335, 1.15], [350, 1.12], [365, 1.14], [382, 1.05], [398, 1.15], [408, 1.05], [430, 1.15], [470, 1.0]];

const panels = [
  { grid: alphaGrid1, edge: edge1, inner: inner1, bars: bars1, yellow: yellow1, dots: yellowDots1, bands: bands1, pale: paleStreaks1, pink: pinkStreaks1, teeth: edgeTeeth1, blobs: baseBlobs1, fillLoops: true },
  { grid: alphaGrid2, edge: edge2, inner: inner2, bars: bars2, yellow: yellow2, dots: yellowDots2, bands: bands2, pale: paleStreaks2, pink: pinkStreaks2, teeth: edgeTeeth2, blobs: [], fillLoops: false },
  { grid: alphaGrid3, edge: edge3, inner: inner3, bars: bars3, yellow: yellow3, dots: yellowDots3, bands: bands3, pale: paleStreaks3, pink: pinkStreaks3, teeth: edgeTeeth3, blobs: [], fillLoops: false },
];

const rMajor = [1, 10, 100];
const rMinor = [0.5, 0.6, 0.7, 0.8, 0.9, 2, 3, 4, 5, 6, 7, 8, 9, 20, 30, 40, 50, 60, 70, 80, 90, 200, 300, 400, 500];
const alphaMajor = [{ v: 1e-2, e: "−2" }, { v: 1e-3, e: "−3" }, { v: 1e-4, e: "−4" }];
const alphaMinor = [6e-5, 7e-5, 8e-5, 9e-5, 5e-5, 2e-4, 3e-4, 4e-4, 5e-4, 6e-4, 7e-4, 8e-4, 9e-4, 2e-3, 3e-3, 4e-3, 5e-3, 6e-3, 7e-3, 8e-3, 9e-3];

const fontFamily = "DejaVu Sans";
const labelSize = 47;

const yR = d3.scaleLog().domain([rMin, rMax]).range([plotBottom, plotTop]);
const yL = (l: number) => yR(Math.pow(10, l));
const yAlpha = d3.scaleLog().domain([alphaMin, alphaMax]).range([plotBottom, plotTop]);
const colorOf = d3.scaleLinear<string>().domain(stopLogs).range(stopColors).interpolate(d3.interpolateRgb).clamp(true);

const App = () => {
  const cbLeft = 3507;
  const cbRight = 3592;
  return (
    <svg width={3834} height={708} viewBox="0 0 3834 708" style={{ position: "absolute", left: 0, top: 0, display: "block" }} fontFamily={fontFamily}>
      <defs>
        <linearGradient id="cbar" gradientUnits="userSpaceOnUse" x1={0} x2={0} y1={yAlpha(alphaMax)} y2={yAlpha(alphaMin)}>
          {stopLogs.map((l, i) => (
            <stop key={i} offset={(yAlpha(Math.pow(10, l)) - plotTop) / (plotBottom - plotTop)} stopColor={stopColors[i]} />
          ))}
        </linearGradient>
        <filter id="smear" filterUnits="userSpaceOnUse" x={0} y={0} width={3834} height={708} colorInterpolationFilters="sRGB">
          <feGaussianBlur stdDeviation="13 0" />
        </filter>
        <filter id="ridge" filterUnits="userSpaceOnUse" x={0} y={0} width={3834} height={708} colorInterpolationFilters="sRGB">
          <feGaussianBlur stdDeviation="3" />
        </filter>
      </defs>

      {panels.map((p, pi) => {
        const left = panelLefts[pi];
        const right = left + panelWidth;
        const x = d3.scaleLinear().domain([0, timeMax]).range([left, right]);
        const line = d3.line<number[]>().x((d) => x(d[0])).y((d) => yL(d[1]));
        const cols = p.grid;
        const logBottom = Math.log10(rMin);
        const logTop = Math.log10(rMax);
        const outside = [...p.edge, [timeMax + 5, p.edge[p.edge.length - 1][1]], [timeMax + 5, logTop], [-5, logTop], [-5, logBottom - 0.01], [p.edge[0][0], logBottom - 0.01]];
        const below = [...p.inner, [timeMax + 5, p.inner[p.inner.length - 1][1]], [timeMax + 5, logBottom - 0.01], [p.inner[0][0], logBottom - 0.01]];
        return (
          <g key={pi}>
            <defs>
              <clipPath id={`clip${pi}`}>
                <rect x={left} y={plotTop} width={panelWidth} height={plotBottom - plotTop} />
              </clipPath>
              {cols.map((c, ci) => (
                <linearGradient key={ci} id={`col${pi}_${ci}`} gradientUnits="userSpaceOnUse" x1={0} x2={0} y1={yL(logRRows[0])} y2={yL(logRRows[logRRows.length - 1])}>
                  {logRRows.map((r, ri) => (
                    <stop key={ri} offset={(yL(logRRows[0]) - yL(r)) / (yL(logRRows[0]) - yL(logRRows[logRRows.length - 1]))} stopColor={colorOf(c[ri] ?? c[c.length - 1])} />
                  ))}
                </linearGradient>
              ))}
            </defs>
            <g clipPath={`url(#clip${pi})`}>
              <rect x={left} y={plotTop} width={panelWidth} height={plotBottom - plotTop} fill={colorOf(bgLog)} />
              <g filter="url(#smear)">
                {cols.map((c, ci) => {
                  const t = columnTimes[ci];
                  const t0 = ci === 0 ? t - 50 : (columnTimes[ci - 1] + t) / 2;
                  const t1 = ci === cols.length - 1 ? t + 60 : (t + columnTimes[ci + 1]) / 2;
                  return (
                    <rect key={ci} x={x(t0)} width={x(t1) - x(t0) + 0.5} y={yL(logRRows[logRRows.length - 1])} height={plotBottom + 6 - yL(logRRows[logRRows.length - 1])} fill={`url(#col${pi}_${ci})`} />
                  );
                })}
              </g>
              <g filter="url(#ridge)" opacity={0.5} fill="none" stroke="#2a3fa8" strokeWidth={8} strokeLinecap="round">
                {p.bands.map((b, i) => <path key={i} d={line(b) ?? ""} />)}
              </g>
              <g stroke="#b4202e" strokeWidth={2} opacity={0.55}>
                {p.teeth.map((s, i) => (
                  <line key={i} x1={x(s[0])} x2={x(s[0])} y1={yL(1.5)} y2={yL(s[1])} />
                ))}
              </g>
              <g strokeWidth={1.3} opacity={0.8}>
                {p.pale.map((s, i) => (
                  <line key={i} x1={x(s[0])} x2={x(s[0])} y1={yL(s[1])} y2={plotBottom} stroke="#dbe5f7" />
                ))}
                {p.pink.map((s, i) => (
                  <line key={i} x1={x(s[0])} x2={x(s[0])} y1={yL(s[1])} y2={plotBottom} stroke="#e8856e" />
                ))}
              </g>
              <path d={line(p.edge) ?? ""} fill="none" stroke="#b4182a" strokeWidth={12} opacity={0.55} />
              <path d={(line(outside as number[][]) ?? "") + "Z"} fill={colorOf(bgLog)} />
              <path d={(line(below as number[][]) ?? "") + "Z"} fill={colorOf(bgLog)} />
              {p.fillLoops && p.yellow.map((l, i) => <path key={i} d={(line(l) ?? "") + "Z"} fill="#02023c" />)}
              <g fill="none" stroke="#ffff00" strokeWidth={3.8} strokeLinejoin="round" strokeLinecap="round">
                {p.yellow.map((l, i) => <path key={i} d={line(l) ?? ""} />)}
              </g>
              {p.dots.map((d, i) => (
                <circle key={i} cx={x(d[0])} cy={yL(d[1])} r={2.8} fill="#ffff00" />
              ))}
              <g stroke="#000" strokeWidth={3.4}>
                {p.bars.map((b, i) => (
                  <line key={i} x1={x(b[0])} x2={x(b[0])} y1={yL(b[1])} y2={yL(b[2])} />
                ))}
              </g>
              {p.blobs.map((t, i) => (
                <circle key={i} cx={x(t)} cy={yL(-0.375)} r={2.6} fill="#000" />
              ))}
              <path d={line(p.edge) ?? ""} fill="none" stroke="#000" strokeWidth={3.3} strokeLinejoin="round" />
              <path d={line(p.inner) ?? ""} fill="none" stroke="#000" strokeWidth={3.3} strokeLinejoin="round" />
            </g>
            <rect x={left} y={plotTop} width={panelWidth} height={plotBottom - plotTop} fill="none" stroke="#000" strokeWidth={3.5} />
            {timeTicks.map((t) => (
              <line key={t} x1={x(t)} x2={x(t)} y1={plotBottom} y2={plotBottom + 25} stroke="#000" strokeWidth={4.5} />
            ))}
            {rMajor.map((r) => (
              <line key={r} x1={left - 25} x2={left} y1={yR(r)} y2={yR(r)} stroke="#000" strokeWidth={4.5} />
            ))}
            {rMinor.map((r) => (
              <line key={r} x1={left - 13} x2={left} y1={yR(r)} y2={yR(r)} stroke="#000" strokeWidth={3.5} />
            ))}
          </g>
        );
      })}

      {rMajor.map((r) => (
        <text key={r} x={182} y={yR(r) + 19} textAnchor="end" fontSize={labelSize} fill="#000">
          10
          <tspan fontSize={labelSize * 0.7} dy={-19}>{Math.log10(r).toFixed(0)}</tspan>
        </text>
      ))}
      <text transform="translate(64,342) rotate(-90)" textAnchor="middle" fontSize={labelSize} fill="#000">
        <tspan fontStyle="italic">R</tspan>(au)
      </text>
      <text x={248} y={92} fontSize={50} fill="#fff">
        <tspan fontStyle="italic">α</tspan>
        <tspan fontSize={35} dy={7}>eff</tspan>
      </text>

      <rect x={cbLeft} y={plotTop} width={cbRight - cbLeft} height={plotBottom - plotTop} fill="url(#cbar)" stroke="#111" strokeWidth={3} />
      {alphaMajor.map((m) => (
        <g key={m.e}>
          <line x1={cbRight} x2={cbRight + 15} y1={yAlpha(m.v)} y2={yAlpha(m.v)} stroke="#000" strokeWidth={2.8} />
          <text x={3625} y={yAlpha(m.v) + 19} fontSize={labelSize} fill="#000">
            10
            <tspan fontSize={labelSize * 0.7} dy={-19} dx={3}>{m.e}</tspan>
          </text>
        </g>
      ))}
      {alphaMinor.map((m) => (
        <line key={m} x1={cbRight} x2={cbRight + 8} y1={yAlpha(m)} y2={yAlpha(m)} stroke="#000" strokeWidth={2} />
      ))}
      <text transform="translate(3793,341) rotate(-90)" textAnchor="middle" fontSize={54} fill="#000">
        <tspan fontStyle="italic">α</tspan>
        <tspan fontSize={38} dy={8}>eff</tspan>
      </text>
    </svg>
  );
};

export default App;
